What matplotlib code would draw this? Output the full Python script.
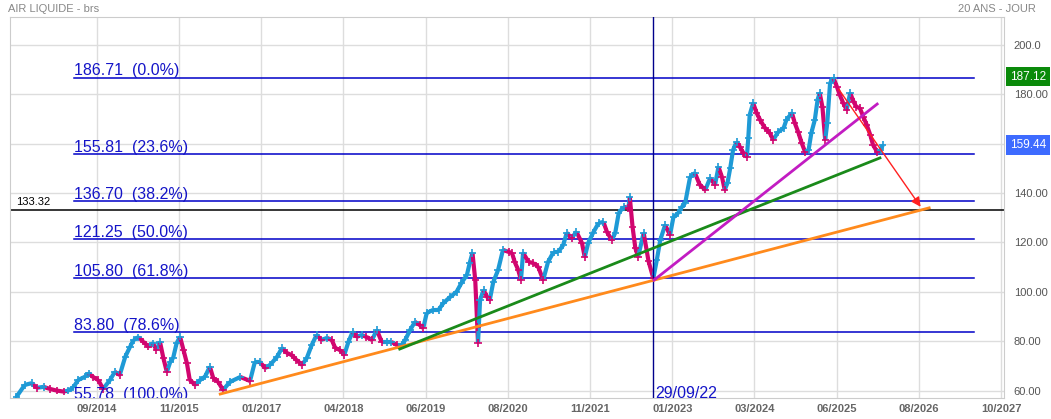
import matplotlib
matplotlib.use("Agg")
import matplotlib.pyplot as plt
from matplotlib.collections import LineCollection
import numpy as np

plt.rcParams['font.family'] = ['Liberation Sans', 'DejaVu Sans']

# AIR LIQUIDE closes (x = decimal year)
dates = [2013.56, 2013.68, 2013.78, 2013.85, 2013.95, 2014.04, 2014.14, 2014.24, 2014.31, 2014.38,
         2014.45, 2014.55, 2014.60, 2014.67, 2014.74, 2014.81, 2014.91, 2014.98, 2015.05, 2015.13,
         2015.20, 2015.25, 2015.32, 2015.39, 2015.46, 2015.53, 2015.58, 2015.63, 2015.68, 2015.73,
         2015.78, 2015.82, 2015.87, 2015.92, 2015.97, 2016.02, 2016.06, 2016.14, 2016.21, 2016.28,
         2016.35, 2016.40, 2016.47, 2016.54, 2016.64, 2016.79, 2016.93, 2017.00, 2017.07, 2017.15,
         2017.22, 2017.32, 2017.39, 2017.46, 2017.53, 2017.60, 2017.68, 2017.75, 2017.82, 2017.89,
         2017.96, 2018.04, 2018.11, 2018.16, 2018.23, 2018.29, 2018.35, 2018.41, 2018.47, 2018.54,
         2018.61, 2018.69, 2018.76, 2018.83, 2018.90, 2018.97, 2019.05, 2019.12, 2019.17, 2019.24,
         2019.31, 2019.38, 2019.43, 2019.48, 2019.57, 2019.65, 2019.72, 2019.82, 2019.91, 2019.98,
         2020.06, 2020.10, 2020.14, 2020.18, 2020.21, 2020.22, 2020.25, 2020.30, 2020.35, 2020.39,
         2020.44, 2020.51, 2020.58, 2020.66, 2020.71, 2020.75, 2020.80, 2020.84, 2020.87, 2020.95,
         2021.02, 2021.09, 2021.16, 2021.23, 2021.31, 2021.38, 2021.45, 2021.50, 2021.57, 2021.64,
         2021.72, 2021.76, 2021.81, 2021.88, 2021.96, 2022.03, 2022.08, 2022.15, 2022.20, 2022.25,
         2022.32, 2022.39, 2022.41, 2022.45, 2022.49, 2022.53, 2022.61, 2022.68, 2022.75, 2022.80,
         2022.85, 2022.92, 2022.99, 2023.04, 2023.11, 2023.16, 2023.21, 2023.28, 2023.35, 2023.42,
         2023.50, 2023.57, 2023.64, 2023.69, 2023.74, 2023.78, 2023.82, 2023.86, 2023.90, 2023.95,
         2024.00, 2024.05, 2024.10, 2024.12, 2024.14, 2024.19, 2024.24, 2024.29, 2024.36, 2024.43,
         2024.48, 2024.55, 2024.63, 2024.67, 2024.75, 2024.79, 2024.84, 2024.89, 2024.94, 2024.99,
         2025.03, 2025.08, 2025.12, 2025.15, 2025.19, 2025.23, 2025.26, 2025.30, 2025.35, 2025.40,
         2025.44, 2025.49, 2025.54, 2025.59, 2025.64, 2025.68, 2025.73, 2025.78, 2025.83, 2025.88,
         2025.92, 2025.98, 2026.03, 2026.06]
closes = [57.6, 62.4, 63.1, 61.2, 61.6, 60.8, 60.1, 59.7, 60.1, 61.4,
          64.4, 65.7, 67.1, 65.5, 64.4, 60.8, 64.4, 67.7, 66.4, 73.8,
          77.9, 80.6, 81.7, 79.9, 77.9, 79.2, 76.5, 79.9, 73.2, 67.6,
          71.8, 73.2, 79.2, 81.9, 76.5, 71.1, 64.4, 62.4, 64.4, 65.7,
          69.8, 65.1, 63.7, 60.3, 63.6, 65.6, 64.0, 71.7, 71.7, 69.2,
          70.5, 73.7, 77.3, 75.3, 74.5, 72.5, 70.5, 73.3, 78.5, 82.6,
          80.6, 81.4, 80.6, 77.3, 76.5, 74.5, 79.8, 83.8, 81.8, 82.6,
          81.8, 80.6, 84.6, 79.8, 79.8, 79.8, 78.5, 78.5, 80.6, 84.6,
          87.9, 86.6, 85.4, 91.5, 92.7, 92.7, 95.5, 98.0, 100.0, 103.6,
          106.9, 111.7, 115.8, 104.8, 85.8, 79.4, 96.8, 100.8, 98.0, 96.8,
          104.0, 108.9, 117.0, 116.2, 115.8, 112.1, 108.9, 104.8, 115.8, 112.1,
          111.7, 110.1, 104.8, 112.1, 116.2, 116.2, 119.0, 123.9, 121.8, 124.3,
          119.8, 114.1, 119.8, 123.9, 127.9, 128.3, 124.3, 121.0, 123.9, 131.9,
          134.4, 134.0, 138.4, 126.3, 117.8, 114.1, 123.9, 112.5, 105.5, 112.9,
          121.0, 127.1, 123.0, 130.3, 131.9, 134.4, 136.0, 146.5, 148.1, 143.3,
          141.3, 146.1, 143.3, 150.6, 146.5, 141.3, 144.1, 150.2, 157.4, 160.7,
          158.6, 156.2, 154.6, 162.3, 171.6, 176.4, 172.4, 169.6, 166.3, 164.3,
          161.5, 164.7, 166.3, 169.6, 172.4, 168.4, 164.7, 160.3, 156.6, 157.4,
          164.3, 169.6, 177.7, 180.5, 174.8, 161.5, 168.4, 184.5, 186.5, 182.9,
          179.7, 176.4, 173.6, 180.5, 176.9, 174.8, 174.4, 170.8, 167.5, 163.5,
          159.5, 156.6, 157.4, 159.44]

# Fibonacci retracement levels
fib_levels = [186.71, 155.81, 136.70, 121.25, 105.80, 83.80, 55.78]
fib_pcts = ["0.0%", "23.6%", "38.2%", "50.0%", "61.8%", "78.6%", "100.0%"]
fib_start, fib_end = 2014.39, 2027.38

support = 133.32
event_date = 2022.745
event_label = "29/09/22"

# trend lines (x in years, y in price)
orange_x, orange_y = [2016.50, 2026.73], [58.7, 134.0]
green_x, green_y = [2019.09, 2026.02], [76.9, 154.2]
magenta_x, magenta_y = [2022.76, 2025.98], [104.8, 176.0]
arrow_from, arrow_to = (2025.40, 183.0), (2026.63, 133.5)

x_tick_labels = ["09/2014", "11/2015", "01/2017", "04/2018", "06/2019", "08/2020",
                 "11/2021", "01/2023", "03/2024", "06/2025", "08/2026", "10/2027"]
tick_start, tick_step = 2014.72, 1.1861
y_ticks = [60, 80, 100, 120, 140, 160, 180, 200]
last_close = 159.44
high_tag = 187.12

UP, DOWN = '#1e9ad6', '#d1056f'

fig = plt.figure(figsize=(10.51, 4.19), dpi=100)
ax = fig.add_axes([10 / 1051, 21 / 419, 994 / 1051, 381 / 419])
ax.set_xlim(2013.4665, 2027.81)
ax.set_ylim(57.1, 211.2)

xt = [tick_start + k * tick_step for k in range(len(x_tick_labels))]
ax.set_xticks(xt)
ax.set_xticklabels(x_tick_labels, fontsize=8, color='#666666', fontweight='bold')
ax.set_yticks(y_ticks)
# the 160 label sits under the last-price tag
ax.set_yticklabels(["" if v == 160 else (f"{v:.1f}" if v == 200 else f"{v:.2f}") for v in y_ticks],
                   fontsize=8, color='#555555')
ax.yaxis.tick_right()
ax.tick_params(axis='both', length=0)
ax.tick_params(axis='y', pad=7)
ax.tick_params(axis='x', pad=4)
ax.grid(True, color='#dddddd', lw=1)
ax.set_axisbelow(True)
for s in ax.spines.values():
    s.set_color('#cccccc')

# price, up legs cyan and down legs magenta, with bar-like ticks
d = np.array(dates)
c = np.array(closes)
segs = np.stack([np.column_stack([d[:-1], c[:-1]]), np.column_stack([d[1:], c[1:]])], axis=1)
up = c[1:] >= c[:-1]
cols = [UP if u else DOWN for u in up]
ax.add_collection(LineCollection(segs, colors=cols, linewidths=3, zorder=3))
pc = [UP] + cols
ax.scatter(d, c, marker='+', s=28, c=pc, linewidths=1.2, zorder=3)

# fib levels
for lvl, pct in zip(fib_levels, fib_pcts):
    ax.plot([fib_start, fib_end], [lvl, lvl], color='#0000c8', lw=1.1, zorder=2)
    ax.annotate(f"{lvl:.2f}  ({pct})", (fib_start, lvl), xytext=(0, 1.5),
                textcoords='offset points', fontsize=11.5, color='#1414c8',
                va='baseline', ha='left', annotation_clip=False, clip_on=True)

ax.axhline(support, color='black', lw=1.1, zorder=2)
ax.text(2013.55, support + 1.2, f"{support:.2f}", fontsize=8, color='black', va='bottom')

ax.axvline(event_date, color='#00008b', lw=1, zorder=4)
ax.text(event_date + 0.03, 57.3, event_label, fontsize=11.5, color='#1414c8', va='baseline')

ax.plot(orange_x, orange_y, color='#ff8a1c', lw=2, zorder=4)
ax.plot(green_x, green_y, color='#1a8a1a', lw=2, zorder=4)
ax.plot(magenta_x, magenta_y, color='#c21cc2', lw=2, zorder=4)
ax.annotate("", xy=arrow_to, xytext=arrow_from,
            arrowprops=dict(arrowstyle='-|>', color='#ff2020', lw=1, mutation_scale=14),
            zorder=5)

# header and price tags
fig.text(8 / 1051, 1 - 9 / 419, "AIR LIQUIDE - brs", fontsize=8, color='#888888', va='center')
fig.text(1036 / 1051, 1 - 9 / 419, "20 ANS - JOUR", fontsize=8, color='#888888', va='center', ha='right')
ax.text(1.006, high_tag, f"{high_tag:.2f}", transform=ax.get_yaxis_transform(), fontsize=8.5,
        color='white', va='center', ha='left', clip_on=False,
        bbox=dict(boxstyle='square,pad=0.3', fc='#0a8a0a', ec='none'))
ax.text(1.006, last_close, f"{last_close:.2f}", transform=ax.get_yaxis_transform(), fontsize=8.5,
        color='white', va='center', ha='left', clip_on=False,
        bbox=dict(boxstyle='square,pad=0.3', fc='#3d6bff', ec='none'))

fig.savefig("out.png", dpi=100)
